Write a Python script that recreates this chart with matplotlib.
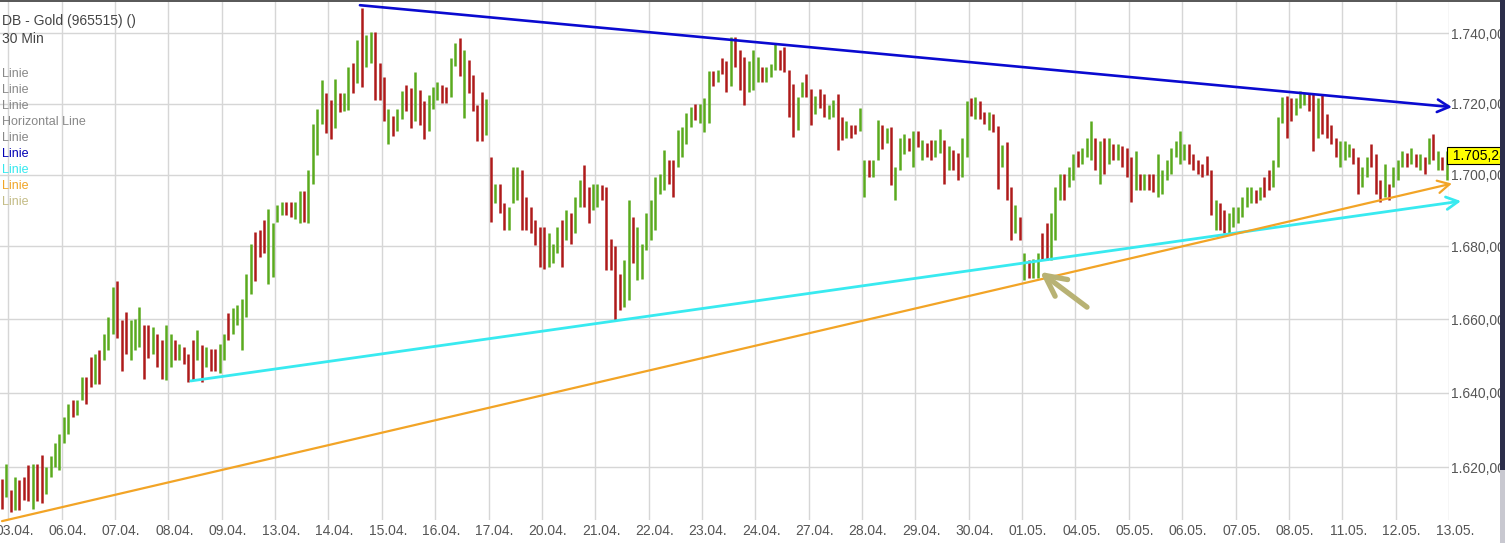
import numpy as np
import matplotlib
matplotlib.use("Agg")
import matplotlib.pyplot as plt
from matplotlib.ticker import FixedLocator, NullLocator, FuncFormatter
from matplotlib.transforms import ScaledTranslation, blended_transform_factory
from matplotlib.patches import Rectangle

plt.rcParams["font.family"] = ["Liberation Sans", "DejaVu Sans"]

# one label per trading day (gridline = start of that day)
day_labels = ["03.04.", "06.04.", "07.04.", "08.04.", "09.04.", "13.04.", "14.04.",
              "15.04.", "16.04.", "17.04.", "20.04.", "21.04.", "22.04.", "23.04.",
              "24.04.", "27.04.", "28.04.", "29.04.", "30.04.", "01.05.", "04.05.",
              "05.05.", "06.05.", "07.05.", "08.05.", "11.05.", "12.05.", "13.05."]

# bar highs / lows, 2 bars from 02.04. then 12 bars per day
highs = [
    1617, 1621,
    1614, 1617.5, 1616.6, 1617.5, 1620.6, 1621, 1621, 1623.3, 1620.2, 1622.9, 1626.4, 1629,
    1633.5, 1637, 1638, 1638, 1644.3, 1644.3, 1649.7, 1650.6, 1651.5, 1656, 1660.5, 1668.9,
    1670.5, 1659.7, 1662, 1659.7, 1660, 1663.4, 1658.4, 1658.4, 1658, 1656, 1654.2, 1658.4,
    1656, 1654.2, 1653.3, 1652.4, 1650.6, 1654.2, 1657, 1652.9, 1652.4, 1652, 1652, 1653.3,
    1656, 1661.6, 1663, 1663.8, 1665.6, 1672.5, 1680.8, 1684, 1684.5, 1687.3, 1690.5, 1686.4,
    1691.4, 1692.4, 1692.4, 1692.4, 1692.4, 1695.3, 1695.3, 1701.2, 1714.2, 1718.5, 1726.7, 1722.9,
    1721, 1727.1, 1723, 1723, 1730.4, 1731.4, 1738, 1747.4, 1739.5, 1740.5, 1740.5, 1731.4,
    1727.5, 1718.6, 1716.5, 1718.4, 1723.6, 1725.3, 1724.4, 1729, 1723.9, 1720.6, 1722.5, 1724.8,
    1726.2, 1725.2, 1724.8, 1733, 1737.2, 1738.6, 1735.3, 1732.5, 1728.2, 1719.7, 1723.3, 1721.4,
    1704.9, 1697.5, 1697.5, 1692, 1691, 1702.1, 1702.1, 1701.2, 1693.8, 1691, 1687.3, 1685.5,
    1685.5, 1683.6, 1680.8, 1685.5, 1687.3, 1690.1, 1689.2, 1693.8, 1698.4, 1702.6, 1696.6, 1697.5,
    1697.5, 1697, 1696.6, 1682.2, 1680, 1672.5, 1676.2, 1692.9, 1688.3, 1685.5, 1680.8, 1689.2,
    1692.9, 1699.4, 1700.3, 1706.8, 1704, 1704, 1712.4, 1713.3, 1717.2, 1719, 1719.9, 1719.9,
    1721.7, 1729.2, 1729.2, 1729.6, 1733, 1732.2, 1739, 1739, 1735.2, 1733.3, 1732.2, 1735.2,
    1733.3, 1730.3, 1730.3, 1731.3, 1737.2, 1735.2, 1736.2, 1729.5, 1725.6, 1722, 1726.2, 1728.5,
    1724, 1722.2, 1724, 1722.6, 1719.7, 1721, 1722.6, 1716.1, 1715, 1714, 1714, 1718.8,
    1704, 1704, 1704, 1715.4, 1714, 1713, 1713.5, 1702.2, 1710.3, 1711.3, 1710.3, 1712.3,
    1712.3, 1709.7, 1708.8, 1709.7, 1709.7, 1712.8, 1709.7, 1708, 1707, 1706, 1710.3, 1720.6,
    1721.6, 1722, 1720.6, 1717.5, 1717.5, 1717, 1713.7, 1708.3, 1709.2, 1696.6, 1691.5, 1688.2,
    1678.1, 1676.2, 1676.6, 1678.1, 1683.6, 1686.4, 1689.2, 1696.6, 1700.3, 1700.3, 1702.2, 1705.8,
    1706.7, 1707.6, 1710.4, 1715.1, 1710.4, 1709.4, 1710.4, 1710.4, 1708.5, 1708.5, 1708.1, 1707.6,
    1704.9, 1706.7, 1700.3, 1700.3, 1700.3, 1700.3, 1705.8, 1701.2, 1704, 1707.6, 1709.4, 1712.2,
    1708.5, 1708.5, 1705.8, 1704, 1703.1, 1705.3, 1701.2, 1692.9, 1692, 1690.1, 1689.2, 1691,
    1691, 1693.8, 1696.6, 1696.6, 1695.6, 1696.6, 1699.4, 1701.2, 1704, 1716.1, 1721.8, 1722.2,
    1721.5, 1721.5, 1723.5, 1723, 1722.6, 1722.6, 1721.5, 1722.6, 1717, 1714, 1710.3, 1709.4,
    1709.4, 1708.5, 1707.6, 1704.9, 1702.2, 1704.9, 1708.5, 1705.8, 1698.4, 1703.1, 1697.5, 1702.2,
    1704, 1706.7, 1706.2, 1707.6, 1705.8, 1705.8, 1704.9, 1710.4, 1711.3, 1706.7, 1704.9, 1706.7,
]
lows = [
    1609, 1612,
    1608, 1608.6, 1608.6, 1611.2, 1611, 1609, 1611, 1610.4, 1613, 1617.5, 1620.2, 1619.3,
    1626.4, 1629, 1633.6, 1634, 1638, 1637, 1641.6, 1642.5, 1642.5, 1648.8, 1651.5, 1656,
    1655, 1646, 1650.6, 1648.8, 1651.5, 1652.4, 1643.8, 1649.3, 1650.6, 1647, 1643.8, 1643.4,
    1647, 1648.8, 1648.8, 1647.9, 1643, 1643.4, 1648.8, 1643, 1647, 1646, 1646, 1645.3,
    1648.8, 1654.2, 1656, 1658.4, 1651.5, 1660.5, 1667, 1670.5, 1677.2, 1678.1, 1669.7, 1671.6,
    1686.8, 1688.6, 1688.6, 1688.2, 1687.7, 1686.4, 1686.8, 1686.4, 1697.5, 1705.5, 1714.2, 1711.6,
    1709.9, 1713, 1717.5, 1718, 1718.1, 1723, 1725.8, 1724.8, 1730.4, 1731.4, 1721, 1721,
    1715, 1708.5, 1710.9, 1712.2, 1715.6, 1717.8, 1713.1, 1715, 1714, 1709.9, 1712.2, 1718.6,
    1721, 1720.1, 1720.1, 1722, 1730.6, 1727.8, 1715.8, 1722.9, 1717.8, 1709.3, 1709.3, 1711.2,
    1686.9, 1692, 1689.2, 1684.5, 1684.5, 1692, 1692.9, 1684.5, 1684.5, 1683.6, 1680.4, 1674.4,
    1673.9, 1674.4, 1675.3, 1678.1, 1674.4, 1681.8, 1680.8, 1683.6, 1691, 1691, 1686.4, 1690.1,
    1691, 1692.9, 1673.5, 1673.5, 1659.7, 1662.5, 1663.4, 1665.2, 1675.3, 1670.7, 1671.1, 1679,
    1681.8, 1684.5, 1694.7, 1695.6, 1697.5, 1693.8, 1702.1, 1704.9, 1708.6, 1713.3, 1715.4, 1714.4,
    1711.9, 1714.4, 1724.9, 1726.2, 1728.5, 1723.2, 1724.9, 1730.3, 1723.9, 1719.7, 1723.2, 1723.9,
    1726.2, 1726.2, 1726.2, 1727.5, 1729.5, 1729.5, 1729, 1716.3, 1710.7, 1712.6, 1722, 1722,
    1714, 1717, 1718.8, 1716.1, 1715.6, 1716.1, 1707, 1709.7, 1710.3, 1710.3, 1711.3, 1712.3,
    1693.8, 1699.4, 1699.4, 1704, 1707.3, 1708.8, 1697, 1692.9, 1701.4, 1705.7, 1706.6, 1702.2,
    1707.7, 1704, 1705, 1704, 1705, 1706, 1697.5, 1701.4, 1701.4, 1698.4, 1699.4, 1705,
    1716.5, 1715.6, 1715.6, 1714.3, 1712.4, 1711.9, 1696.1, 1702.2, 1692.9, 1681.8, 1683.6, 1681.8,
    1670.7, 1671.2, 1671.2, 1671.2, 1676.2, 1676.2, 1676.2, 1681.8, 1692.9, 1692.9, 1696.6, 1698.4,
    1702.2, 1703.1, 1704.9, 1704, 1701.2, 1697.5, 1700.3, 1703.1, 1704, 1704, 1702.2, 1699.4,
    1692.4, 1695.6, 1695.6, 1695.6, 1695.6, 1695.1, 1693.8, 1694.7, 1698.4, 1700.3, 1704.9, 1703.1,
    1704, 1703.1, 1701.2, 1700.3, 1699.4, 1699.8, 1688.8, 1684.5, 1684.5, 1683.6, 1683.6, 1685.5,
    1686.4, 1688.3, 1691, 1692, 1692, 1692.9, 1693.8, 1695.6, 1696.6, 1702.2, 1714.6, 1710.4,
    1715, 1716.8, 1718.8, 1719.7, 1717.8, 1706.7, 1710.4, 1711.3, 1710.4, 1708.5, 1704.9, 1702.2,
    1704, 1704.9, 1703.1, 1694.7, 1696.6, 1699.4, 1702.2, 1694.7, 1692.4, 1693.8, 1692.9, 1696.6,
    1698.4, 1702.2, 1702.2, 1703.1, 1702.2, 1701.2, 1700.3, 1703.1, 1704, 1701.2, 1701.2, 1698.4,
]
# g = up bar, r = down bar
bar_dirs = ("rg"
            "rgrrrgrrgggg" "ggrggrrgrggg" "rrrgggrrgrrg" "grgrrrgrgrrg"
            "grgggggrrrgg" "ggrrggrggggr" "rgrggrgrggrr"
            "rgrggrrgrrgg" "grrggrgrrrrg" "rgrrgggrrrrr" "rgggrgrggrrg"
            "grrrrrggrggg" "ggggrrggggrg" "ggrgrrgrrrgg" "grgggrrrrggr"
            "rgrrggrrgrrg" "grggrgrgggrg" "rgrrggrgrrgg" "rgrrgrrgrrgr"
            "grggrrgggrgg" "rgggrgrgrgrr" "rgrgrrgggggg" "grrrrrrgrrgg"
            "ggggrgrrgggr" "rgggrrgrrrrg" "ggrrggrrrgrg" "ggrgrgrgrgrg")

last_price = 1705.28

# trend lines drawn on the chart: (day position, price) start -> end
blue_line = [(6.59, 1748.1), (27.055, 1719.0)]
cyan_line = [(3.418, 1643.2), (27.225, 1692.6)]
orange_line = [(-0.118, 1605.7), (27.055, 1697.5)]
marker_arrow = [(20.216, 1663.3), (19.335, 1673.0)]

legend_names = ["Linie", "Linie", "Linie", "Horizontal Line", "Linie",
                "Linie", "Linie", "Linie", "Linie"]
legend_colors = ["#888888", "#888888", "#888888", "#888888", "#888888",
                 "#0000b4", "#33e8ee", "#f0a526", "#c4bc86"]

y_ticks = [1620, 1640, 1660, 1680, 1700, 1720, 1740]

W, H = 1505, 543
fig = plt.figure(figsize=(W / 100, H / 100), dpi=100)
fig.patch.set_facecolor("white")
ax = fig.add_axes([0, 1 - 520 / H, 1449 / W, 520 / H])

ax.set_yscale("log")
ax.set_ylim(1606.0, 1749.6)
ax.set_xlim(-0.1556, 27.0)


def de_fmt(v, pos=None):
    s = f"{v:,.2f}"
    return s.replace(",", "X").replace(".", ",").replace("X", ".")


ax.yaxis.set_major_locator(FixedLocator(y_ticks))
ax.yaxis.set_minor_locator(NullLocator())
ax.yaxis.set_major_formatter(FuncFormatter(de_fmt))
ax.yaxis.set_minor_formatter(FuncFormatter(lambda v, p: ""))
ax.yaxis.tick_right()
ax.tick_params(axis="y", length=0, pad=1.5, labelsize=10, labelcolor="#555555")

ax.set_xticks(np.arange(len(day_labels)))
ax.set_xticklabels(day_labels)
ax.tick_params(axis="x", length=0, pad=2.8, labelsize=10, labelcolor="#555555")
shift = ScaledTranslation(6 / 100, 0, fig.dpi_scale_trans)
for lab in ax.get_xticklabels():
    lab.set_transform(lab.get_transform() + shift)

for s in ax.spines.values():
    s.set_visible(False)
ax.grid(True, color="#d6d6d6", lw=1.0)
ax.set_axisbelow(True)

# OHLC bars (high-low lines)
bars_per_day = 12
xs = (np.arange(len(highs)) - 1.5) / bars_per_day
cols = ["#5aaa1e" if d == "g" else "#ae1a1a" for d in bar_dirs]
ax.vlines(xs, lows, highs, colors=cols, lw=1.8, zorder=3)


def trend(pts, color, lw, hl, hw):
    ax.annotate("", xy=pts[1], xytext=pts[0], annotation_clip=False, zorder=4,
                arrowprops=dict(arrowstyle=f"->,head_length={hl},head_width={hw}",
                                color=color, lw=lw, shrinkA=0, shrinkB=0))


trend(blue_line, "#0a0ad0", 1.9, 0.85, 0.45)
trend(cyan_line, "#38eaf0", 2.0, 0.85, 0.45)
trend(orange_line, "#f2a426", 1.6, 0.85, 0.45)
trend(marker_arrow, "#b8b274", 3.8, 1.5, 0.75)

# last price tag on the axis
tr = blended_transform_factory(ax.transAxes, ax.transData)
ax.text(1.0, last_price, " " + de_fmt(last_price) + "  ", transform=tr,
        ha="left", va="center", fontsize=10, color="black", zorder=6, clip_on=False,
        bbox=dict(boxstyle="square,pad=0.12", fc="#ffff00", ec="black", lw=0.8))

# header texts
fig.text(2 / W, 1 - 21 / H, "DB - Gold (965515) ()", fontsize=10, color="#444444", va="center")
fig.text(2 / W, 1 - 39 / H, "30 Min", fontsize=10, color="#444444", va="center")
for i, (name, c) in enumerate(zip(legend_names, legend_colors)):
    fig.text(2 / W, 1 - (74 + 16 * i) / H, name, fontsize=9, color=c, va="center")

# frame details of the screenshot
fig.add_artist(Rectangle((0, 1 - 2 / H), 1, 2 / H, transform=fig.transFigure,
                         color="#5a5a5a", lw=0))
fig.add_artist(Rectangle((1500 / W, 1 - 470 / H), 5 / W, 470 / H, transform=fig.transFigure,
                         color="#2c2e4a", lw=0))
fig.add_artist(Rectangle((1500 / W, 0), 5 / W, 1 - 470 / H, transform=fig.transFigure,
                         color="#c8c8d0", lw=0))

fig.savefig("out.png", dpi=100)
